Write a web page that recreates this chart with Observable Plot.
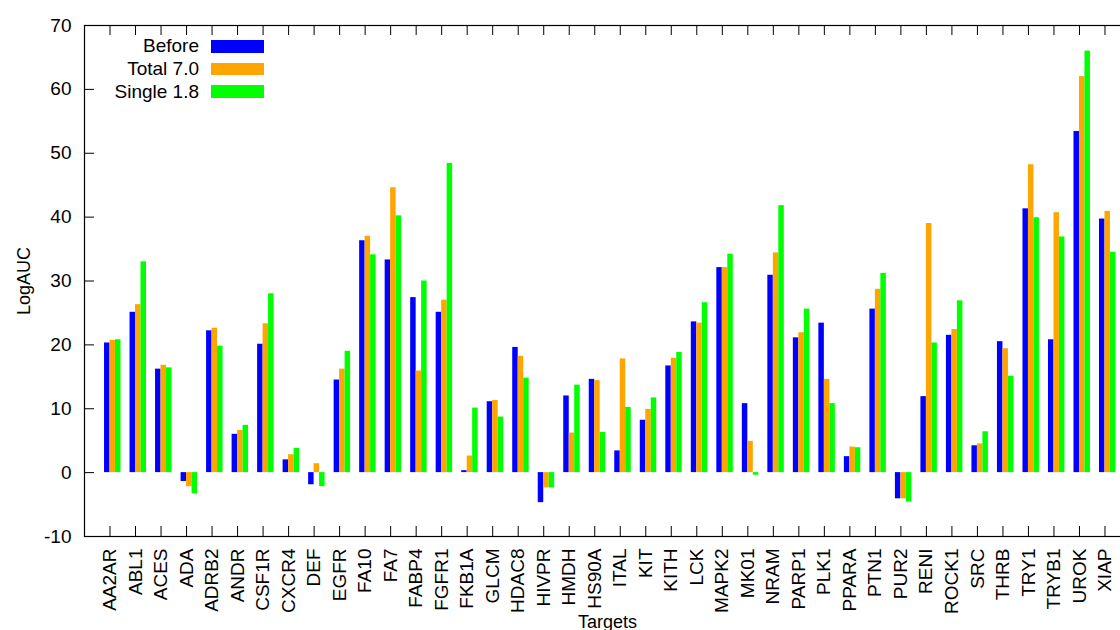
<!DOCTYPE html>
<html>
<head>
<meta charset="utf-8">
<script src="https://cdn.jsdelivr.net/npm/d3@7"></script>
<script src="https://cdn.jsdelivr.net/npm/@observablehq/plot@0.6"></script>
<style>
  html, body { margin: 0; padding: 0; background: #fff; overflow: hidden; width: 1120px; height: 630px; }
  #wrap { position: relative; width: 1120px; height: 630px; overflow: hidden; font-family: "Liberation Sans", Arial, sans-serif; }
  #wrap svg { max-width: none !important; display: block; }
  #legend { position: absolute; right: 856px; top: 35px; font-size: 19px; color: #000; }
  #legend .row { display: flex; align-items: center; justify-content: flex-end; height: 22.7px; white-space: nowrap; }
  #legend .sw { width: 53px; height: 12.5px; margin-left: 12px; }
</style>
</head>
<body>
<div id="wrap"></div>
<script>
const targets = ["AA2AR","ABL1","ACES","ADA","ADRB2","ANDR","CSF1R","CXCR4","DEF","EGFR","FA10","FA7","FABP4","FGFR1","FKB1A","GLCM","HDAC8","HIVPR","HMDH","HS90A","ITAL","KIT","KITH","LCK","MAPK2","MK01","NRAM","PARP1","PLK1","PPARA","PTN1","PUR2","RENI","ROCK1","SRC","THRB","TRY1","TRYB1","UROK","XIAP"];
const before = [20.3,25.1,16.2,-1.4,22.2,6.0,20.1,2.0,-1.9,14.5,36.3,33.3,27.4,25.1,0.3,11.1,19.6,-4.7,12.0,14.6,3.4,8.2,16.7,23.6,32.1,10.8,30.9,21.1,23.4,2.5,25.6,-4.1,11.9,21.5,4.2,20.5,41.3,20.8,53.4,39.7];
const total70 = [20.7,26.3,16.8,-2.2,22.6,6.6,23.3,2.8,1.4,16.2,37.0,44.6,15.9,27.0,2.6,11.3,18.2,-2.4,6.2,14.4,17.8,9.9,17.9,23.4,32.1,4.9,34.4,21.9,14.6,4.0,28.7,-4.1,39.0,22.4,4.5,19.4,48.2,40.7,62.0,40.9];
const single18 = [20.8,33.0,16.4,-3.3,19.8,7.4,28.0,3.8,-2.2,19.0,34.1,40.2,30.0,48.4,10.1,8.7,14.8,-2.4,13.7,6.3,10.2,11.7,18.8,26.6,34.2,-0.4,41.8,25.6,10.8,3.9,31.2,-4.6,20.3,26.9,6.4,15.1,39.9,36.9,66.0,34.5];
const seriesNames = ["Before","Total 7.0","Single 1.8"];
const seriesColors = ["#0000ff","#ffa500","#00ff00"];
const yTicks = [-10,0,10,20,30,40,50,60,70];

const barW = 0.215;
const rows = [];
[before, total70, single18].forEach((arr, k) => {
  arr.forEach((v, i) => rows.push({i, k, v, s: seriesNames[k]}));
});
const idx = d3.range(targets.length);

const chart = Plot.plot({
  width: 1150,
  height: 630,
  marginLeft: 84,
  marginRight: 20,
  marginTop: 25,
  marginBottom: 94,
  style: {fontFamily: "Liberation Sans, Arial, sans-serif", fontSize: "19px", color: "#000", background: "#fff", maxWidth: "none"},
  x: {type: "linear", domain: [-1, targets.length]},
  y: {domain: [-10, 70]},
  marks: [
    Plot.rectY(rows, {
      x1: d => d.i + (d.k - 1) * barW,
      x2: d => d.i + d.k * barW,
      y: "v",
      fill: d => seriesColors[d.k],
      inset: 0
    }),
    // inward tick marks on bottom, top and left
    Plot.tickX(idx, {x: d => d, stroke: "#000", insetTop: 501}),
    Plot.tickX(idx, {x: d => d, stroke: "#000", insetBottom: 501}),
    Plot.tickY(yTicks, {y: d => d, stroke: "#000", insetRight: 1036}),
    Plot.axisX(idx, {
      anchor: "bottom", tickSize: 0, tickPadding: 12, tickRotate: -90,
      tickFormat: i => targets[i],
      fontSize: 19,
      label: null
    }),
    Plot.axisX({
      anchor: "bottom", ticks: [], tickSize: 0,
      label: "Targets", labelAnchor: "center", labelArrow: "none", labelOffset: 91,
      fontSize: 18
    }),
    Plot.axisY(yTicks, {
      anchor: "left", tickSize: 0, tickPadding: 13,
      tickFormat: d => String(d),
      fontSize: 19,
      label: null
    }),
    Plot.axisY({
      anchor: "left", ticks: [], tickSize: 0,
      label: "LogAUC", labelAnchor: "center", labelArrow: "none", labelOffset: 67,
      fontSize: 18
    }),
    Plot.frame({stroke: "#000", strokeWidth: 1.2})
  ]
});

const wrap = document.getElementById("wrap");
wrap.appendChild(chart);

const legend = document.createElement("div");
legend.id = "legend";
seriesNames.forEach((name, k) => {
  const r = document.createElement("div");
  r.className = "row";
  const t = document.createElement("span");
  t.textContent = name;
  const sw = document.createElement("span");
  sw.className = "sw";
  sw.style.background = seriesColors[k];
  r.appendChild(t);
  r.appendChild(sw);
  legend.appendChild(r);
});
wrap.appendChild(legend);
</script>
</body>
</html>
